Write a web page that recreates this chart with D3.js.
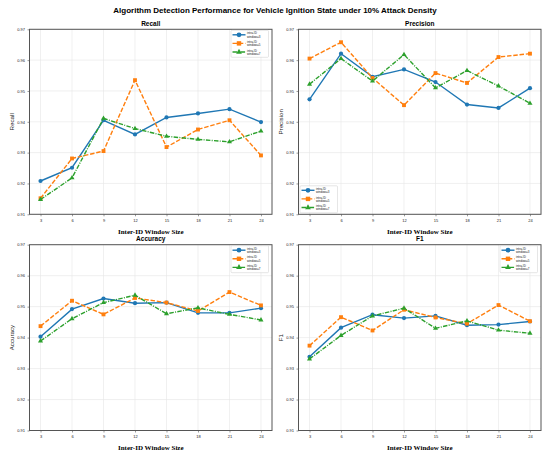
<!DOCTYPE html>
<html>
<head>
<meta charset="utf-8">
<style>
body { margin: 0; background: #fff; }
.tick text { font-family: "Liberation Sans", Arial, sans-serif; font-size: 4px; fill: #222; }
.tick line { stroke: #555; stroke-width: 0.6; }
.domain { display: none; }
.grid line { stroke: #e6e6e6; stroke-width: 0.6; }
</style>
<script src="https://cdn.jsdelivr.net/npm/d3@7"></script>
</head>
<body>
<svg width="550" height="460"></svg>
<script>

// window sizes on the x axis
var windows = [3, 6, 9, 12, 15, 18, 21, 24];
var yTicks = [0.91, 0.92, 0.93, 0.94, 0.95, 0.96, 0.97];
var seriesNames = ["intra-ID\nwindow=3", "intra-ID\nwindow=5", "intra-ID\nwindow=7"];

var recallW3 = [0.9208, 0.9251, 0.9405, 0.9359, 0.9414, 0.9427, 0.9441, 0.9399];
var recallW5 = [0.9152, 0.9281, 0.9305, 0.9535, 0.9318, 0.9375, 0.9405, 0.9291];
var recallW7 = [0.9148, 0.9218, 0.9411, 0.9378, 0.9353, 0.9343, 0.9335, 0.9370];

var precisionW3 = [0.9473, 0.9621, 0.9546, 0.9570, 0.9529, 0.9456, 0.9445, 0.9509];
var precisionW5 = [0.9605, 0.9658, 0.9542, 0.9454, 0.9558, 0.9526, 0.9610, 0.9621];
var precisionW7 = [0.9522, 0.9605, 0.9532, 0.9618, 0.9510, 0.9566, 0.9516, 0.9460];

var accuracyW3 = [0.9403, 0.9492, 0.9526, 0.9511, 0.9513, 0.9480, 0.9480, 0.9495];
var accuracyW5 = [0.9437, 0.9519, 0.9475, 0.9528, 0.9513, 0.9486, 0.9547, 0.9504];
var accuracyW7 = [0.9389, 0.9461, 0.9513, 0.9537, 0.9477, 0.9496, 0.9475, 0.9457];

var f1W3 = [0.9338, 0.9432, 0.9474, 0.9463, 0.9470, 0.9440, 0.9442, 0.9452];
var f1W5 = [0.9374, 0.9466, 0.9423, 0.9490, 0.9465, 0.9445, 0.9505, 0.9453];
var f1W7 = [0.9331, 0.9407, 0.9470, 0.9495, 0.9430, 0.9454, 0.9424, 0.9414];

var colors = ["#1f77b4", "#ff7f0e", "#2ca02c"];
var dashes = [null, "4.5,1.8", "4.5,1.3,1,1.3"];
var markers = [d3.symbolCircle, d3.symbolSquare, d3.symbolTriangle];
var markerSize = [14, 15, 11];

var svg = d3.select("svg");

svg.append("text")
    .attr("x", 275).attr("y", 12.8)
    .attr("text-anchor", "middle")
    .style("font-family", "'Liberation Sans', Arial, sans-serif")
    .style("font-weight", "bold")
    .style("font-size", "8px")
    .text("Algorithm Detection Performance for Vehicle Ignition State under 10% Attack Density");

var panels = [
  {title: "Recall", data: [recallW3, recallW5, recallW7], x0: 29.5, x1: 272, y0: 29.3, y1: 214.3, legend: "tr"},
  {title: "Precision", data: [precisionW3, precisionW5, precisionW7], x0: 298.5, x1: 541, y0: 29.3, y1: 214.3, legend: "bl"},
  {title: "Accuracy", data: [accuracyW3, accuracyW5, accuracyW7], x0: 29.5, x1: 272, y0: 244.7, y1: 430.5, legend: "tr"},
  {title: "F1", data: [f1W3, f1W5, f1W7], x0: 298.5, x1: 541, y0: 244.7, y1: 430.5, legend: "tr"}
];

panels.forEach(drawPanel);

function drawPanel(p) {
  var w = p.x1 - p.x0, h = p.y1 - p.y0;
  var g = svg.append("g").attr("transform", "translate(" + p.x0 + "," + p.y0 + ")");

  var x = d3.scaleLinear().domain([1.95, 25.05]).range([0, w]);
  var y = d3.scaleLinear().domain([0.91, 0.97]).range([h, 0]);

  // grid
  var grid = g.append("g").attr("class", "grid");
  grid.selectAll(".gx").data(windows).enter().append("line")
      .attr("x1", function(d) { return x(d); }).attr("x2", function(d) { return x(d); })
      .attr("y1", 0).attr("y2", h);
  grid.selectAll(".gy").data(yTicks).enter().append("line")
      .attr("x1", 0).attr("x2", w)
      .attr("y1", function(d) { return y(d); }).attr("y2", function(d) { return y(d); });

  g.append("g")
      .attr("transform", "translate(0," + h + ")")
      .call(d3.axisBottom(x).tickValues(windows).tickSize(2).tickPadding(2.5));
  g.append("g")
      .call(d3.axisLeft(y).tickValues(yTicks).tickFormat(d3.format(".2f")).tickSize(2).tickPadding(2.5));

  g.append("rect")
      .attr("width", w).attr("height", h)
      .attr("fill", "none").attr("stroke", "#555").attr("stroke-width", 1);

  p.data.forEach(function(vals, i) {
    var pts = windows.map(function(d, j) { return [d, vals[j]]; });
    var line = d3.line().x(function(d) { return x(d[0]); }).y(function(d) { return y(d[1]); });
    g.append("path")
        .attr("d", line(pts))
        .attr("fill", "none")
        .attr("stroke", colors[i])
        .attr("stroke-width", 1.4)
        .attr("stroke-dasharray", dashes[i]);
    g.selectAll(".m" + i).data(pts).enter().append("path")
        .attr("transform", function(d) { return "translate(" + x(d[0]) + "," + y(d[1]) + ")"; })
        .attr("d", d3.symbol().type(markers[i]).size(markerSize[i]))
        .attr("fill", colors[i]);
  });

  // subplot title
  g.append("text")
      .attr("x", w / 2).attr("y", -3.5)
      .attr("text-anchor", "middle")
      .style("font-family", "'Liberation Sans', Arial, sans-serif")
      .style("font-weight", "bold")
      .style("font-size", "6.5px")
      .text(p.title);

  // axis labels
  g.append("text")
      .attr("x", w / 2).attr("y", h + 19.3)
      .attr("text-anchor", "middle")
      .style("font-family", "'Liberation Serif', 'Times New Roman', serif")
      .style("font-weight", "bold")
      .style("font-size", "7px")
      .text("Inter-ID Window Size");
  g.append("text")
      .attr("transform", "translate(-15.5," + (h / 2) + ") rotate(-90)")
      .attr("text-anchor", "middle")
      .style("font-family", "'Liberation Sans', Arial, sans-serif")
      .style("font-size", "6.2px")
      .style("fill", "#222")
      .text(p.title);

  // legend
  var lw = 37.5, lh = 27;
  var lx = p.legend === "tr" ? w - lw - 3.5 : 1.5;
  var ly = p.legend === "tr" ? 1 : h - lh - 1.5;
  var lg = g.append("g").attr("transform", "translate(" + lx + "," + ly + ")");
  lg.append("rect")
      .attr("width", lw).attr("height", lh).attr("rx", 1)
      .attr("fill", "#fff").attr("fill-opacity", 0.85)
      .attr("stroke", "#ccc").attr("stroke-width", 0.5);
  seriesNames.forEach(function(name, i) {
    var cy = 4.5 + i * 8.6;
    lg.append("line")
        .attr("x1", 1.5).attr("x2", 14.5).attr("y1", cy).attr("y2", cy)
        .attr("stroke", colors[i]).attr("stroke-width", 1.4)
        .attr("stroke-dasharray", dashes[i]);
    lg.append("path")
        .attr("transform", "translate(8," + cy + ")")
        .attr("d", d3.symbol().type(markers[i]).size(markerSize[i] * 1.3))
        .attr("fill", colors[i]);
    var t = lg.append("text")
        .attr("x", 16).attr("y", cy - 0.3)
        .style("font-family", "'Liberation Sans', Arial, sans-serif")
        .style("font-size", "3px")
        .style("fill", "#222");
    name.split("\n").forEach(function(s, k) {
      t.append("tspan").attr("x", 16).attr("dy", k === 0 ? 0 : 3.3).text(s);
    });
  });
}

</script>
</body>
</html>
